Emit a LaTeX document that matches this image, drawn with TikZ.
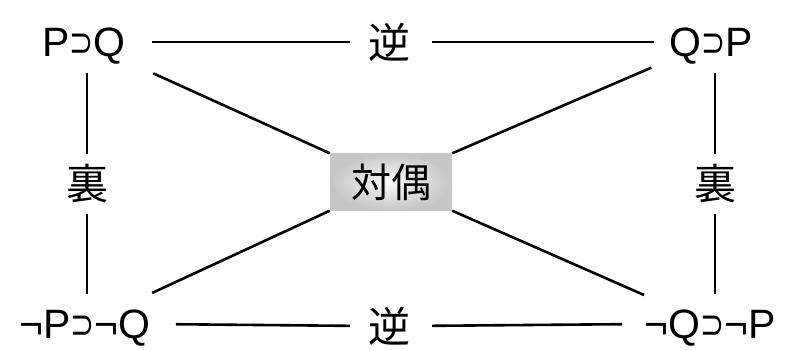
\documentclass[tikz,border=0pt]{standalone}
\usepackage{graphicx}
\usepackage{fontspec}
\setmainfont{Liberation Sans}
\newfontfamily\cjk{Noto Sans CJK JP}
\newfontfamily\symf{DejaVu Sans}
\newcommand{\impl}{{\symf\scalebox{0.7}[1]{⊃}}}
\begin{document}
\begin{tikzpicture}[x=1pt,y=-1pt,
  lbl/.style={font=\fontsize{41}{41}\selectfont, inner sep=0pt, text height=29pt, text depth=0pt},
  cj/.style={font=\cjk\fontsize{42}{42}\selectfont, inner sep=0pt},
  conn/.style={line width=2.6pt, black}]
\useasboundingbox (0,0) rectangle (785,349);
% corner nodes
\node[lbl] (pq)  at (84,42)  {P\impl Q};
\node[lbl] (qp)  at (711,42) {Q\impl P};
\node[lbl] (npq) at (85,324) {¬P\impl¬Q};
\node[lbl] (nqp) at (710,324){¬Q\impl¬P};
% labels
\node[cj] (gt) at (389,42) {逆};
\node[cj] (gb) at (389,326) {逆};
\node[cj] (ul) at (87,184) {裏};
\node[cj] (ur) at (715,184) {裏};
\node[font=\cjk\fontsize{40}{40}\selectfont, inner sep=0pt, minimum width=122pt, minimum height=57pt,
      inner color=gray!4, outer color=gray!45] (tg) at (391,182) {対偶};
% horizontal connectors
\draw[conn, shorten <=26pt, shorten >=18pt] (pq.east) -- (gt.west);
\draw[conn, shorten <=22pt, shorten >=15pt] (gt.east) -- (qp.west);
\draw[conn, shorten <=25pt, shorten >=18pt] (npq.east) -- (gb.west);
\draw[conn, shorten <=22pt, shorten >=22pt] (gb.east) -- (nqp.west);
% vertical connectors
\draw[conn, shorten <=10pt, shorten >=16pt] (ul.north) -- (ul.north |- pq.south);
\draw[conn, shorten <=10pt, shorten >=15pt] (ul.south) -- (ul.south |- npq.north);
\draw[conn, shorten <=10pt, shorten >=16pt] (ur.north) -- (ur.north |- qp.south);
\draw[conn, shorten <=10pt, shorten >=15pt] (ur.south) -- (ur.south |- nqp.north);
% diagonals
\draw[conn, shorten >=76pt] (tg.north west) -- (pq.center);
\draw[conn, shorten >=65pt] (tg.north east) -- (qp.center);
\draw[conn, shorten >=74pt] (tg.south west) -- (npq.center);
\draw[conn, shorten >=72pt] (tg.south east) -- (nqp.center);
\end{tikzpicture}
\end{document}
